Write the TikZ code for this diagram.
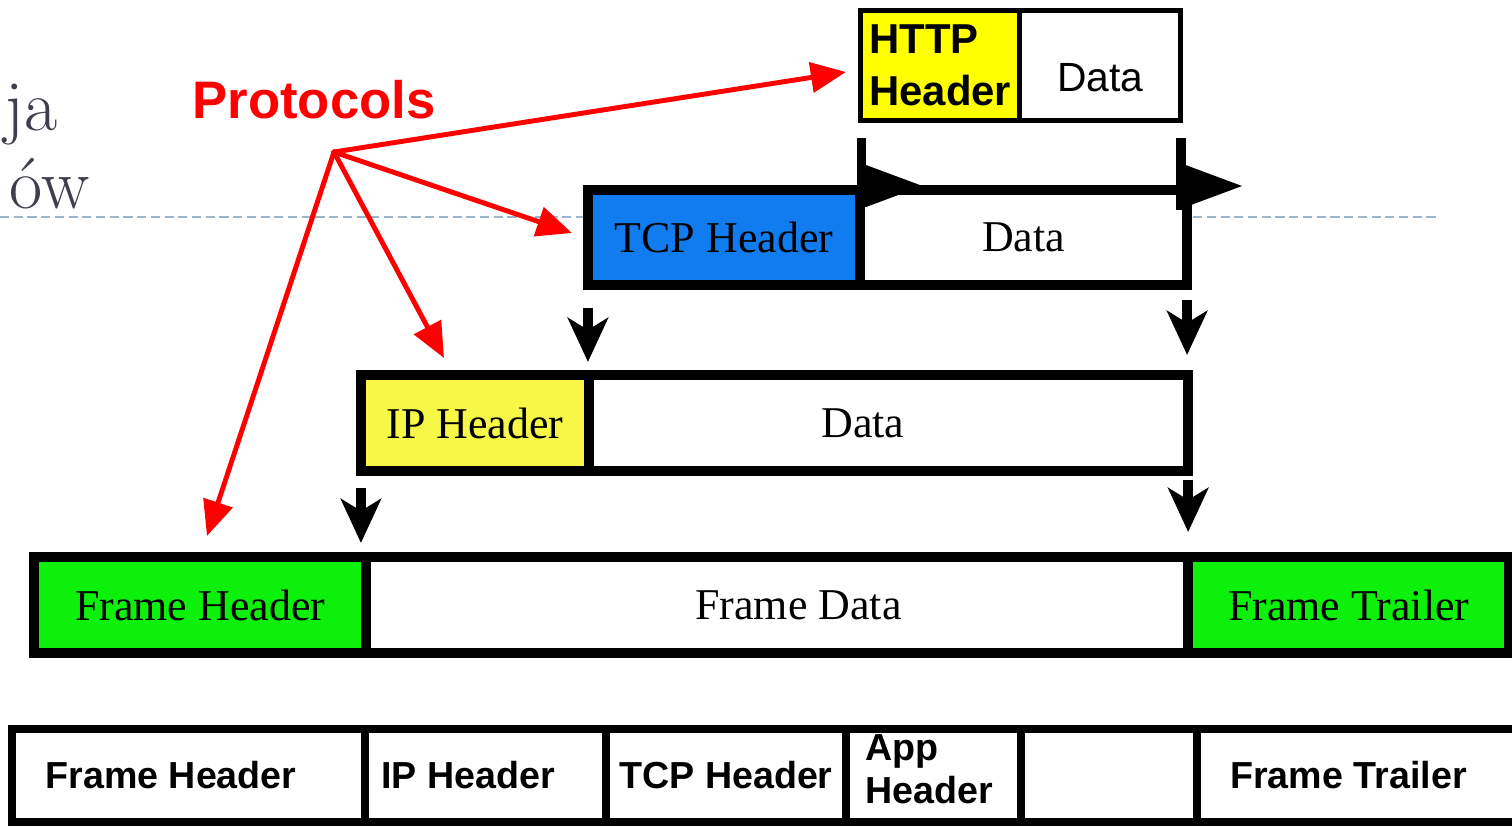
\documentclass[tikz,border=0pt]{standalone}
\usepackage{fontspec}
\setsansfont{Liberation Sans}
\newfontfamily\tnr{Liberation Serif}
\usetikzlibrary{arrows.meta}

\definecolor{httpyellow}{RGB}{255,255,0}
\definecolor{ipyellow}{RGB}{247,247,72}
\definecolor{tcpblue}{RGB}{16,124,240}
\definecolor{framegreen}{RGB}{12,240,12}
\definecolor{slidegray}{RGB}{62,62,76}
\definecolor{rulegray}{RGB}{157,180,206}

\tikzset{
  cell/.style={draw, fill=white, line width=1mm, inner sep=0pt, outer sep=0pt,
    font=\tnr\fontsize{12.5}{15}\selectfont},
  httpcell/.style={cell, line width=0.5mm, minimum height=1.1cm,
    font=\sffamily\fontsize{11.6}{14}\selectfont},
  rowcell/.style={cell, line width=0.8mm, minimum height=0.93cm,
    font=\sffamily\bfseries\fontsize{10.7}{12.2}\selectfont},
  celltext/.style={draw=none, fill=none, inner sep=0pt,
    font=\tnr\fontsize{12.5}{15}\selectfont},
  rowtext/.style={celltext, font=\sffamily\bfseries\fontsize{10.7}{12.2}\selectfont},
  pointer/.style={red, line width=1.4pt, line cap=round,
    -{Triangle[length=10pt, width=8.5pt]}},
  dropar/.style={line width=2.7pt, -{Stealth[length=12.5pt, width=11.4pt, inset=3.4pt]}},
}

\begin{document}
\begin{tikzpicture}[x=0.01cm, y=-0.01cm]
\useasboundingbox (0,0) rectangle (1512,827);

% slide behind the diagram
\draw[rulegray, line width=0.6pt, dash pattern=on 2.6pt off 1.3pt] (0,217) -- (1437,217);
\node[slidegray, font=\fontsize{20.5}{24}\selectfont, anchor=base east, inner sep=0pt] (titlea) at (58,130) {ja};
\node[slidegray, font=\fontsize{20.5}{24}\selectfont, anchor=base east, inner sep=0pt] (titleb) at (90,208) {ów};

% application
\node[httpcell, fill=httpyellow, minimum width=1.595cm, align=left,
  font=\sffamily\bfseries\fontsize{11.9}{14.8}\selectfont] (httph) at (940.25,65.5) {HTTP\\Header};
\node[httpcell, minimum width=1.605cm,
  label={[celltext, font=\sffamily\fontsize{11.6}{14}\selectfont, yshift=-0.12cm]center:Data}] (httpd) at (1100.25,65.5) {};

% transport
\node[cell, fill=tcpblue, minimum width=2.72cm, minimum height=0.95cm] (tcph) at (724,237.5) {TCP Header};
\node[cell, minimum width=3.27cm, minimum height=0.95cm] (tcpd) at (1023.5,237.5) {Data};

% span marks of the http packet
\foreach \bx/\bend in {861.5/207, 1181/210} {
  \draw[line width=2.7pt] (\bx,138) -- (\bx,\bend);
  \fill (\bx+4.5,165) -- (\bx+61,186) -- (\bx+4.5,207) -- cycle;
}

% network
\node[cell, fill=ipyellow, minimum width=2.28cm, minimum height=0.96cm] (iph) at (475,423) {IP Header};
\node[cell, minimum width=5.99cm, minimum height=0.96cm,
  label={[celltext, xshift=-0.255cm]center:Data}] (ipd) at (888.5,423) {};

% link
\node[cell, fill=framegreen, minimum width=3.325cm, minimum height=0.955cm] (fh) at (200.25,605.25) {Frame Header};
\node[cell, minimum width=8.22cm, minimum height=0.955cm,
  label={[celltext, xshift=0.21cm]center:Frame Data}] (fd) at (777.5,605.25) {};
\node[cell, fill=framegreen, minimum width=3.205cm, minimum height=0.955cm] (ft) at (1348.75,605.25) {Frame Trailer};

% encapsulation arrows
\draw[dropar, shorten <=0.23cm, shorten >=0.13cm] (tcph.south west) -- (tcph.south west |- iph.north);
\draw[dropar, shorten <=0.15cm, shorten >=0.2cm] (tcpd.south east) -- (tcpd.south east |- ipd.north);
\draw[dropar, shorten <=0.17cm, shorten >=0.145cm] (iph.south west) -- (iph.south west |- fh.north);
\draw[dropar, shorten <=0.09cm, shorten >=0.255cm] (ipd.south east) -- (ipd.south east |- ft.north);

% protocols
\node[red, font=\sffamily\bfseries\fontsize{15}{18}\selectfont, anchor=base, inner sep=0pt] (protocols) at (314,118) {Protocols};
\coordinate (hub) at (334,152);
\coordinate (tohttp) at (846,72);
\coordinate (totcp) at (572,233);
\coordinate (toip) at (444,358);
\coordinate (toframe) at (207,536);
\foreach \tgt in {tohttp, totcp, toip, toframe}
  \draw[pointer] (hub) -- (\tgt);

% flat frame
\node[rowcell, minimum width=3.525cm,
  label={[rowtext, xshift=-0.1775cm]center:Frame Header}] (rfh) at (188.75,775.5) {};
\node[rowcell, minimum width=2.41cm,
  label={[rowtext, xshift=-0.175cm]center:IP Header}] (rip) at (485.5,775.5) {};
\node[rowcell, minimum width=2.40cm] (rtcp) at (726,775.5) {TCP Header};
\node[rowcell, minimum width=1.75cm,
  label={[rowtext, align=left, xshift=-0.045cm, yshift=0.06cm]center:App\\Header}] (rapp) at (933.5,775.5) {};
\node[rowcell, minimum width=1.76cm] (rblank) at (1109,775.5) {};
\node[rowcell, minimum width=3.23cm,
  label={[rowtext, xshift=-0.1cm]center:Frame Trailer}] (rft) at (1358.5,775.5) {};
\end{tikzpicture}
\end{document}
